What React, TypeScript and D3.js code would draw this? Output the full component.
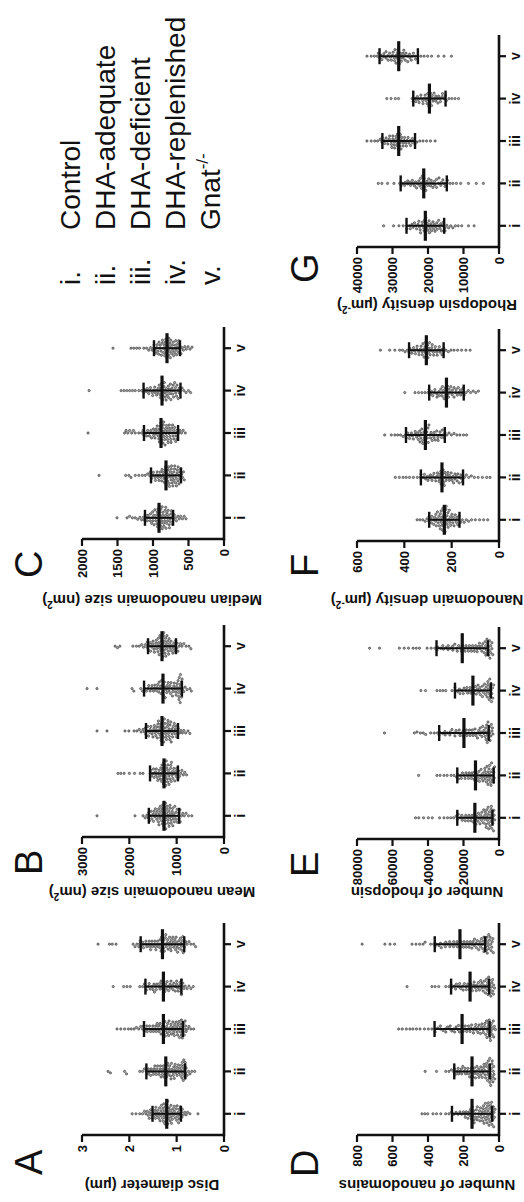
import React from "react";
import * as d3 from "d3";

const groups = ["i", "ii", "iii", "iv", "v"];
const legendNames = ["Control", "DHA-adequate", "DHA-deficient", "DHA-replenished", "Gnat"];
const romans = ["i.", "ii.", "iii.", "iv.", "v."];

// Panel A: Disc diameter (µm)
const discTicks = [0, 1, 2, 3];
const discMeans = [1.21, 1.23, 1.28, 1.28, 1.3];
const discSDs = [0.3, 0.41, 0.41, 0.38, 0.46];
const discI = [1.94, 1.86, 1.78, 1.72, 1.68, 1.65, 1.62, 1.6, 1.57, 1.55, 1.53, 1.5, 1.47, 1.45, 1.43, 1.4, 1.38, 1.36, 1.34, 1.32, 1.3, 1.28, 1.27, 1.25, 1.24, 1.22, 1.21, 1.2, 1.18, 1.17, 1.15, 1.14, 1.12, 1.1, 1.09, 1.07, 1.05, 1.03, 1.01, 0.99, 0.97, 0.95, 0.93, 0.9, 0.88, 0.86, 0.83, 0.8, 0.77, 0.72, 0.55,
  1.58, 1.52, 1.46, 1.41, 1.37, 1.33, 1.29, 1.26, 1.23, 1.21, 1.19, 1.16, 1.13, 1.11, 1.08, 1.05, 1.02, 0.98, 0.95, 0.92, 0.89, 1.35, 1.27, 1.19, 1.12, 1.24, 1.3, 1.44, 1.0, 0.96];
const discII = [2.45, 2.4, 2.1, 2.06, 1.78, 1.72, 1.68, 1.64, 1.6, 1.57, 1.54, 1.51, 1.48, 1.45, 1.42, 1.4, 1.37, 1.35, 1.33, 1.3, 1.28, 1.26, 1.24, 1.22, 1.2, 1.18, 1.16, 1.14, 1.12, 1.1, 1.08, 1.06, 1.04, 1.02, 1.0, 0.98, 0.96, 0.94, 0.92, 0.9, 0.88, 0.87, 0.85, 0.84, 0.82, 0.8, 0.78, 0.75, 0.72, 0.68, 0.62,
  1.55, 1.49, 1.43, 1.38, 1.32, 1.27, 1.23, 1.19, 1.15, 1.11, 1.07, 1.03, 0.99, 0.95, 0.91, 0.88, 0.86, 0.84, 0.82, 0.81, 0.85, 0.89, 1.21, 1.29, 1.34, 1.46, 1.6, 1.13, 1.05];
const discIII = [2.26, 2.18, 2.1, 2.02, 1.96, 1.9, 1.85, 1.8, 1.76, 1.72, 1.68, 1.65, 1.62, 1.58, 1.55, 1.52, 1.49, 1.46, 1.43, 1.4, 1.37, 1.34, 1.31, 1.29, 1.27, 1.25, 1.23, 1.21, 1.19, 1.17, 1.15, 1.13, 1.11, 1.09, 1.07, 1.05, 1.03, 1.01, 0.99, 0.97, 0.95, 0.93, 0.91, 0.9, 0.88, 0.86, 0.84, 0.82, 0.8, 0.77, 0.74, 0.7, 0.64,
  1.7, 1.63, 1.57, 1.5, 1.44, 1.38, 1.33, 1.28, 1.24, 1.2, 1.16, 1.12, 1.08, 1.04, 1.0, 0.96, 0.92, 0.89, 0.87, 0.85, 0.83, 0.81, 0.9, 0.94, 0.98, 1.26, 1.35, 1.41, 1.06, 1.18];
const discIV = [2.34, 2.12, 2.05, 1.98, 1.78, 1.72, 1.68, 1.64, 1.6, 1.56, 1.52, 1.48, 1.45, 1.42, 1.38, 1.35, 1.32, 1.3, 1.27, 1.25, 1.22, 1.2, 1.17, 1.14, 1.12, 1.09, 1.06, 1.03, 1.0, 0.97, 0.94, 0.92, 0.9, 0.88, 0.85, 0.82, 0.78, 0.74, 0.7, 0.65,
  1.66, 1.58, 1.5, 1.43, 1.36, 1.29, 1.23, 1.18, 1.13, 1.08, 1.03, 0.98, 0.93, 0.9, 0.87, 0.91, 1.0, 1.26, 1.33, 1.47];
const discV = [2.66, 2.42, 2.36, 2.28, 1.92, 1.88, 1.84, 1.8, 1.77, 1.73, 1.7, 1.66, 1.63, 1.6, 1.57, 1.54, 1.51, 1.48, 1.45, 1.42, 1.39, 1.36, 1.34, 1.32, 1.3, 1.28, 1.26, 1.24, 1.22, 1.2, 1.18, 1.16, 1.14, 1.12, 1.1, 1.08, 1.06, 1.04, 1.02, 1.0, 0.98, 0.96, 0.94, 0.92, 0.9, 0.88, 0.86, 0.84, 0.81, 0.78, 0.74, 0.7, 0.64, 0.6,
  1.78, 1.72, 1.65, 1.58, 1.52, 1.46, 1.4, 1.35, 1.31, 1.27, 1.23, 1.19, 1.15, 1.11, 1.07, 1.03, 0.99, 0.95, 0.91, 0.87, 0.85, 0.89, 1.25, 1.33, 1.44, 1.55, 1.01, 1.13];

// Panel B: Mean nanodomain size (nm²)
const meanSizeTicks = [0, 1000, 2000, 3000];
const meanSizeMeans = [1268, 1268, 1310, 1289, 1310];
const meanSizeSDs = [320, 295, 338, 400, 295];
const meanSizeI = [2683, 1880, 1710, 1665, 1630, 1600, 1575, 1550, 1525, 1500, 1480, 1460, 1440, 1420, 1400, 1385, 1370, 1355, 1340, 1325, 1310, 1295, 1280, 1265, 1250, 1240, 1230, 1215, 1200, 1190, 1175, 1160, 1145, 1130, 1115, 1100, 1085, 1070, 1050, 1030, 1010, 990, 970, 950, 925, 900, 870, 840, 800, 750, 680,
  1590, 1540, 1490, 1450, 1410, 1375, 1345, 1315, 1290, 1270, 1255, 1235, 1210, 1185, 1165, 1140, 1120, 1095, 1065, 1040, 1015, 985, 955, 930, 1260, 1300, 1380, 1220, 1150, 1080];
const meanSizeII = [2240, 2180, 2110, 2000, 1890, 1770, 1710, 1560, 1530, 1500, 1475, 1450, 1430, 1410, 1390, 1370, 1350, 1335, 1320, 1305, 1290, 1275, 1260, 1248, 1235, 1220, 1205, 1190, 1175, 1160, 1145, 1130, 1115, 1100, 1080, 1060, 1040, 1020, 1000, 980, 960, 940, 915, 890, 860, 830, 790,
  1545, 1490, 1440, 1400, 1360, 1325, 1295, 1270, 1250, 1230, 1210, 1185, 1165, 1140, 1110, 1085, 1050, 1010, 975, 1280, 1240, 1310, 1200, 1125];
const meanSizeIII = [2683, 2472, 2092, 2010, 1900, 1840, 1790, 1750, 1710, 1680, 1650, 1620, 1595, 1570, 1545, 1520, 1500, 1480, 1460, 1440, 1420, 1400, 1385, 1370, 1355, 1340, 1325, 1310, 1295, 1280, 1265, 1250, 1235, 1220, 1205, 1190, 1175, 1160, 1145, 1130, 1115, 1100, 1085, 1070, 1050, 1030, 1010, 990, 965, 940, 910, 880, 850, 810, 760, 720,
  1660, 1610, 1560, 1510, 1470, 1430, 1395, 1360, 1330, 1300, 1275, 1245, 1215, 1185, 1155, 1125, 1095, 1060, 1025, 1000, 1290, 1335, 1410, 1260, 1195, 1140];
const meanSizeIV = [2894, 2683, 1944, 1905, 1760, 1720, 1680, 1640, 1600, 1560, 1520, 1490, 1460, 1430, 1400, 1380, 1360, 1340, 1320, 1300, 1280, 1260, 1240, 1220, 1200, 1180, 1160, 1140, 1120, 1100, 1080, 1060, 1040, 1020, 1000, 980, 960, 945, 930, 915, 900, 885, 870, 850, 820, 780, 720, 690,
  1590, 1530, 1470, 1410, 1370, 1330, 1290, 1250, 1210, 1170, 1130, 1090, 1050, 1010, 990, 970, 950, 935, 920, 905, 895, 925, 955, 1285];
const meanSizeV = [2300, 2250, 2200, 1925, 1850, 1790, 1740, 1700, 1660, 1630, 1600, 1575, 1550, 1525, 1500, 1480, 1460, 1440, 1420, 1400, 1385, 1370, 1355, 1340, 1325, 1310, 1295, 1280, 1265, 1250, 1235, 1220, 1205, 1190, 1175, 1160, 1140, 1120, 1100, 1080, 1060, 1040, 1020, 1000, 975, 950, 920, 890, 850, 800, 740, 700,
  1620, 1560, 1510, 1470, 1430, 1395, 1360, 1330, 1300, 1275, 1245, 1215, 1185, 1150, 1110, 1070, 1030, 990, 1290, 1320, 1260, 1380, 1230, 1170];

// Panel C: Median nanodomain size (nm²)
const medSizeTicks = [0, 500, 1000, 1500, 2000];
const medSizeMeans = [915, 817, 887, 873, 803];
const medSizeSDs = [198, 211, 240, 260, 183];
const medSizeI = [1507, 1366, 1330, 1290, 1250, 1215, 1185, 1160, 1135, 1110, 1090, 1070, 1050, 1035, 1020, 1005, 990, 975, 960, 948, 936, 924, 912, 900, 888, 876, 864, 852, 840, 828, 816, 804, 792, 780, 768, 755, 742, 728, 715, 700, 685, 670, 650, 630, 610, 585, 560, 535,
  1120, 1080, 1040, 1010, 985, 965, 945, 930, 918, 906, 894, 882, 870, 858, 846, 834, 822, 810, 798, 786, 774, 760, 745, 730, 915, 940, 890, 870, 1000, 820];
const medSizeII = [1760, 1385, 1340, 1310, 1250, 1200, 1150, 1110, 1075, 1045, 1020, 995, 970, 950, 930, 910, 890, 872, 856, 840, 825, 810, 796, 782, 768, 755, 742, 730, 718, 706, 694, 682, 670, 658, 646, 634, 622, 610, 598, 585, 572, 560,
  1040, 1000, 965, 940, 915, 895, 876, 860, 845, 830, 815, 800, 786, 772, 758, 745, 732, 720, 708, 696, 684, 672, 660, 648, 636, 624, 820, 780, 740];
const medSizeIII = [1915, 1400, 1380, 1355, 1330, 1300, 1275, 1250, 1200, 1160, 1130, 1100, 1075, 1050, 1030, 1010, 990, 972, 955, 940, 925, 910, 896, 882, 868, 855, 842, 830, 818, 806, 794, 782, 770, 758, 745, 732, 718, 705, 690, 675, 660, 640, 620, 600, 575, 545,
  1140, 1090, 1050, 1020, 995, 975, 955, 935, 918, 902, 888, 874, 860, 847, 834, 822, 810, 798, 786, 774, 762, 750, 737, 724, 710, 695, 680, 665, 890, 860, 910, 850];
const medSizeIV = [1900, 1450, 1410, 1370, 1330, 1290, 1250, 1200, 1160, 1120, 1090, 1060, 1035, 1010, 990, 970, 950, 930, 912, 895, 878, 862, 846, 830, 815, 800, 785, 770, 755, 740, 725, 710, 695, 680, 662, 645, 628, 610, 590, 565, 535, 500, 470,
  1130, 1080, 1040, 1005, 975, 948, 922, 900, 880, 862, 845, 828, 812, 796, 780, 764, 748, 732, 716, 700, 684, 668, 650, 632, 870, 840, 900];
const medSizeV = [1563, 1310, 1270, 1230, 1190, 1130, 1090, 1060, 1035, 1010, 990, 970, 950, 932, 915, 898, 882, 866, 850, 835, 820, 806, 792, 778, 764, 750, 736, 722, 708, 694, 680, 666, 652, 638, 622, 606, 590, 572, 552, 530, 505, 478, 450,
  985, 960, 940, 920, 902, 886, 870, 855, 840, 826, 812, 798, 784, 770, 756, 742, 728, 714, 700, 686, 672, 656, 640, 624, 810, 780, 830, 760];

// Panel D: Number of nanodomains
const ndTicks = [0, 200, 400, 600, 800];
const ndMeans = [152, 152, 208, 163, 220];
const ndSDs = [113, 100, 155, 107, 142];
const ndI = [434, 418, 402, 372, 352, 328, 300, 282, 268, 255, 242, 230, 220, 210, 200, 192, 184, 176, 168, 160, 153, 146, 140, 134, 128, 122, 116, 110, 104, 98, 92, 87, 82, 77, 72, 67, 62, 58, 54, 50, 46, 42, 38, 34, 30, 26, 22,
  190, 175, 162, 150, 140, 131, 123, 115, 108, 101, 95, 89, 84, 79, 74, 69, 64, 60, 56, 52, 48, 44, 40, 36, 32, 28, 155, 143, 85, 66];
const ndII = [416, 352, 300, 282, 268, 255, 245, 236, 228, 220, 212, 204, 196, 188, 180, 172, 165, 158, 151, 144, 138, 132, 126, 120, 114, 108, 102, 96, 90, 85, 80, 75, 70, 65, 60, 56, 52, 48, 44, 40, 36, 32, 28, 24,
  250, 230, 210, 192, 176, 160, 147, 135, 124, 113, 103, 94, 86, 78, 71, 64, 58, 52, 47, 42, 38, 34, 30, 62, 54, 46];
const ndIII = [565, 545, 522, 502, 485, 465, 445, 420, 398, 378, 360, 345, 330, 316, 302, 290, 278, 266, 254, 242, 232, 222, 212, 202, 192, 182, 172, 163, 154, 145, 136, 128, 120, 112, 104, 96, 89, 82, 75, 68, 62, 56, 50, 44, 38, 32, 26, 20,
  360, 330, 300, 275, 250, 228, 208, 190, 173, 158, 144, 131, 119, 108, 98, 88, 79, 71, 63, 55, 48, 42, 36, 30, 60, 70, 53, 45];
const ndIV = [518, 378, 360, 340, 300, 282, 266, 252, 240, 228, 216, 205, 195, 185, 176, 167, 158, 150, 142, 134, 126, 118, 110, 103, 96, 89, 82, 76, 70, 64, 58, 52, 46, 40, 35, 30, 25,
  270, 245, 222, 202, 184, 168, 153, 140, 128, 116, 105, 95, 86, 78, 70, 62, 55, 48, 42, 36, 31, 50, 58, 66];
const ndV = [771, 643, 614, 588, 490, 468, 447, 428, 416, 385, 368, 352, 338, 325, 312, 300, 288, 277, 266, 255, 245, 235, 225, 215, 206, 197, 188, 179, 170, 162, 154, 146, 138, 130, 122, 114, 106, 99, 92, 85, 78, 71, 64, 57, 50, 44, 38, 32,
  360, 330, 302, 278, 256, 236, 218, 200, 184, 168, 153, 140, 127, 115, 104, 94, 85, 76, 68, 61, 54, 47, 41, 35, 66, 73, 88, 58];

// Panel E: Number of rhodopsin
const rhoTicks = [0, 20000, 40000, 60000, 80000];
const rhoMeans = [13600, 13250, 19750, 14700, 20700];
const rhoSDs = [9900, 10250, 13950, 10100, 14500];
const rhoI = [47000, 45200, 42500, 39800, 37600, 33500, 31000, 29000, 27200, 25600, 24200, 23000, 21800, 20700, 19700, 18700, 17800, 16900, 16000, 15200, 14400, 13700, 13000, 12300, 11600, 11000, 10400, 9800, 9200, 8600, 8000, 7400, 6900, 6400, 5900, 5400, 4900, 4400, 3900, 3400, 2900, 2400,
  23500, 21000, 19000, 17300, 15700, 14300, 13000, 11800, 10700, 9700, 8800, 8000, 7200, 6500, 5800, 5200, 4600, 4100, 3600, 3100, 2700, 6100, 6700, 7700, 5000, 4300];
const rhoII = [45300, 35000, 33200, 31000, 29200, 27000, 25400, 24000, 22800, 21700, 20600, 19600, 18600, 17700, 16800, 16000, 15200, 14400, 13700, 13000, 12300, 11600, 11000, 10400, 9800, 9200, 8600, 8000, 7400, 6800, 6200, 5600, 5000, 4500, 4000, 3500, 3000, 2500,
  23500, 21200, 19100, 17200, 15500, 14000, 12600, 11300, 10100, 9000, 8000, 7100, 6300, 5500, 4800, 4200, 3600, 3100, 2700, 5300, 5900, 6600, 7800, 4600];
const rhoIII = [64500, 47700, 46200, 44300, 42700, 41300, 38500, 36500, 34800, 33200, 31700, 30300, 29000, 27700, 26500, 25300, 24200, 23100, 22000, 21000, 20000, 19000, 18100, 17200, 16300, 15400, 14600, 13800, 13000, 12200, 11400, 10600, 9900, 9200, 8500, 7800, 7100, 6400, 5800, 5200, 4600, 4000, 3400,
  33700, 30500, 27500, 24800, 22400, 20300, 18400, 16600, 15000, 13500, 12100, 10800, 9600, 8500, 7500, 6600, 5800, 5000, 4300, 3700, 6200, 6900, 7300, 5400];
const rhoIV = [44000, 41400, 35000, 33200, 31600, 30000, 26500, 24800, 23300, 22000, 20800, 19700, 18700, 17700, 16800, 15900, 15100, 14300, 13500, 12800, 12100, 11400, 10700, 10000, 9300, 8700, 8100, 7500, 6900, 6300, 5700, 5100, 4500, 4000, 3500, 3000,
  24800, 22300, 20100, 18100, 16300, 14700, 13200, 11800, 10500, 9300, 8200, 7200, 6300, 5500, 4800, 4200, 3700, 5200, 5900, 6600, 4400];
const rhoV = [72900, 67300, 56100, 53400, 51000, 48400, 46600, 44800, 40500, 38200, 36200, 34400, 32800, 31300, 29900, 28600, 27300, 26100, 24900, 23800, 22700, 21600, 20600, 19600, 18600, 17600, 16700, 15800, 14900, 14000, 13100, 12300, 11500, 10700, 9900, 9100, 8300, 7500, 6800, 6100, 5400, 4700, 4000, 3500,
  35000, 31700, 28700, 26000, 23500, 21200, 19100, 17200, 15500, 13900, 12400, 11000, 9700, 8500, 7400, 6400, 5500, 4700, 4000, 5800, 6600, 7100, 7800, 5100];

// Panel F: Nanodomain density (µm⁻²)
const ndDensTicks = [0, 200, 400, 600];
const ndDensMeans = [231, 241, 311, 222, 307];
const ndDensSDs = [64, 89, 82, 73, 73];
const ndDensI = [346, 334, 322, 312, 304, 297, 290, 284, 278, 272, 267, 262, 257, 252, 248, 244, 240, 236, 232, 228, 224, 220, 216, 212, 208, 204, 200, 195, 190, 185, 180, 174, 168, 162, 155, 147, 138, 128, 116, 100, 82, 65, 48,
  296, 286, 276, 268, 260, 254, 248, 242, 237, 233, 229, 226, 223, 219, 215, 210, 205, 199, 193, 186, 178, 170, 238, 230, 244, 221, 265, 250];
const ndDensII = [438, 421, 405, 392, 378, 362, 345, 332, 320, 310, 300, 291, 283, 275, 267, 260, 253, 246, 240, 234, 228, 222, 216, 210, 204, 198, 192, 186, 180, 174, 168, 161, 154, 146, 138, 128, 117, 104, 88, 70, 52, 38,
  330, 315, 302, 290, 280, 270, 261, 253, 245, 238, 231, 224, 217, 210, 202, 194, 186, 177, 168, 158, 250, 236, 242, 229];
const ndDensIII = [483, 455, 440, 428, 416, 405, 395, 386, 378, 370, 362, 355, 348, 341, 335, 329, 323, 317, 311, 305, 299, 293, 287, 281, 275, 269, 263, 257, 250, 243, 236, 228, 220, 211, 201, 190, 178, 165, 150, 137,
  392, 378, 366, 354, 344, 334, 326, 318, 310, 303, 296, 289, 282, 274, 266, 258, 249, 240, 231, 315, 322, 300, 306, 330, 338];
const ndDensIV = [398, 355, 340, 326, 313, 301, 290, 280, 271, 262, 254, 246, 239, 232, 225, 218, 211, 204, 197, 190, 183, 176, 169, 162, 155, 147, 139, 130, 120, 109, 98, 87,
  296, 284, 272, 262, 252, 243, 235, 227, 220, 213, 206, 198, 190, 181, 172, 163, 153, 229, 222, 215, 240];
const ndDensV = [501, 462, 440, 420, 408, 397, 387, 378, 369, 361, 353, 346, 339, 332, 325, 318, 312, 306, 300, 294, 288, 282, 276, 270, 263, 256, 249, 241, 233, 224, 214, 203, 190, 175, 158, 140, 122,
  380, 368, 357, 347, 338, 329, 321, 313, 305, 298, 291, 284, 277, 269, 261, 252, 243, 234, 310, 302, 316, 296, 324];

// Panel G: Rhodopsin density (µm⁻²)
const rhoDensTicks = [0, 10000, 20000, 30000, 40000];
const rhoDensMeans = [20750, 21200, 28250, 19600, 28250];
const rhoDensSDs = [5300, 6500, 4600, 4550, 5400];
const rhoDensI = [32500, 29700, 28200, 27000, 26000, 25200, 24500, 23800, 23200, 22600, 22100, 21600, 21100, 20600, 20200, 19800, 19400, 19000, 18600, 18200, 17800, 17400, 17000, 16600, 16200, 15700, 15200, 14700, 14200, 13600, 13000, 12300, 11500, 10500, 8600, 7000,
  26000, 25000, 24200, 23500, 22800, 22200, 21700, 21200, 20800, 20400, 20000, 19600, 19200, 18800, 18400, 18000, 17500, 17000, 16400, 15800, 15200, 20700, 21000, 19700, 22400];
const rhoDensII = [34000, 33000, 31400, 29600, 28000, 27200, 26400, 25700, 25000, 24400, 23800, 23200, 22600, 22100, 21600, 21100, 20600, 20100, 19600, 19100, 18600, 18100, 17600, 17000, 16400, 15800, 15200, 14500, 13800, 13000, 12000, 10800, 8600, 6400, 4400,
  27600, 26600, 25700, 24900, 24200, 23500, 22900, 22300, 21800, 21300, 20800, 20300, 19800, 19300, 18800, 18200, 17600, 16900, 16200, 15400, 14600, 21500, 20900, 22000];
const rhoDensIII = [37200, 36000, 35000, 34200, 33500, 32900, 32300, 31800, 31300, 30800, 30300, 29900, 29500, 29100, 28700, 28300, 27900, 27500, 27100, 26700, 26300, 25900, 25400, 24900, 24400, 23800, 23100, 22300, 21400, 20400, 19300, 18000,
  33000, 32200, 31500, 30900, 30400, 29900, 29400, 29000, 28600, 28200, 27800, 27400, 27000, 26600, 26100, 25600, 25000, 24400, 23700, 28400, 28000, 28800, 27600, 29600, 30200];
const rhoDensIV = [31600, 30400, 29200, 28300, 24500, 23600, 23000, 22500, 22000, 21500, 21000, 20600, 20200, 19800, 19400, 19000, 18600, 18200, 17800, 17400, 17000, 16500, 16000, 15400, 14800, 14100, 13300, 12400, 11400,
  24200, 23400, 22700, 22000, 21400, 20800, 20300, 19800, 19300, 18800, 18300, 17800, 17200, 16600, 15900, 15100, 19600, 20100, 19000];
const rhoDensV = [37200, 36000, 35100, 34300, 33600, 33000, 32400, 31800, 31300, 30800, 30300, 29800, 29400, 29000, 28600, 28200, 27800, 27400, 27000, 26600, 26200, 25700, 25200, 24700, 24100, 23500, 22800, 22000, 21100, 20100, 19000, 17100, 15500, 13400,
  34000, 33200, 32500, 31800, 31200, 30600, 30000, 29500, 29000, 28500, 28000, 27500, 27000, 26400, 25800, 25100, 24400, 23600, 28300, 27800, 28700, 29300, 26800];

type PanelDef = {
  letter: string;
  title: string;
  sup?: string;
  ticks: number[];
  means: number[];
  sds: number[];
  pts: number[][];
  x0: number;
  row: number;
  titleX: number;
  letterX: number;
};

const panels: PanelDef[] = [
  { letter: "A", title: "Disc diameter (µm)", ticks: discTicks, means: discMeans, sds: discSDs, pts: [discI, discII, discIII, discIV, discV], x0: 67, row: 0, titleX: 22, letterX: 27 },
  { letter: "B", title: "Mean nanodomain size (nm", sup: "2", ticks: meanSizeTicks, means: meanSizeMeans, sds: meanSizeSDs, pts: [meanSizeI, meanSizeII, meanSizeIII, meanSizeIV, meanSizeV], x0: 365, row: 0, titleX: 315, letterX: 327 },
  { letter: "C", title: "Median nanodomain size (nm", sup: "2", ticks: medSizeTicks, means: medSizeMeans, sds: medSizeSDs, pts: [medSizeI, medSizeII, medSizeIII, medSizeIV, medSizeV], x0: 663, row: 0, titleX: 607, letterX: 624 },
  { letter: "D", title: "Number of nanodomains", ticks: ndTicks, means: ndMeans, sds: ndSDs, pts: [ndI, ndII, ndIII, ndIV, ndV], x0: 67, row: 1, titleX: 22, letterX: 25 },
  { letter: "E", title: "Number of rhodopsin", ticks: rhoTicks, means: rhoMeans, sds: rhoSDs, pts: [rhoI, rhoII, rhoIII, rhoIV, rhoV], x0: 363, row: 1, titleX: 315, letterX: 325 },
  { letter: "F", title: "Nanodomain density (µm", sup: "-2", ticks: ndDensTicks, means: ndDensMeans, sds: ndDensSDs, pts: [ndDensI, ndDensII, ndDensIII, ndDensIV, ndDensV], x0: 661, row: 1, titleX: 607, letterX: 625 },
  { letter: "G", title: "Rhodopsin density (µm", sup: "-2", ticks: rhoDensTicks, means: rhoDensMeans, sds: rhoDensSDs, pts: [rhoDensI, rhoDensII, rhoDensIII, rhoDensIV, rhoDensV], x0: 955, row: 1, titleX: 902, letterX: 919 },
];

const FONT = "'Liberation Sans', Arial, Helvetica, sans-serif";
const AXIS_W = 212;
const ZERO_Y = [224, 499];
const SPAN = 142;
const DOT_D = 2.8;

function swarm(vals: number[], y: (v: number) => number) {
  const pts = vals.map((v) => ({ py: y(v), dx: 0 }));
  const order = [...pts].sort((a, b) => a.py - b.py);
  const placed: { py: number; dx: number }[] = [];
  let flip = 1;
  for (const p of order) {
    const near = placed.filter((q) => Math.abs(q.py - p.py) < DOT_D);
    let chosen = 0;
    for (let k = 0; k < 80; k++) {
      const mag = k * 0.5;
      const cands = k === 0 ? [0] : [flip * mag, -flip * mag];
      let found = false;
      for (const c of cands) {
        if (near.every((q) => (q.dx - c) ** 2 + (q.py - p.py) ** 2 >= DOT_D * DOT_D)) {
          chosen = c;
          found = true;
          break;
        }
      }
      if (found) break;
    }
    flip = -flip;
    p.dx = chosen;
    placed.push(p);
  }
  return pts;
}

function Panel({ p }: { p: PanelDef }) {
  const zero = ZERO_Y[p.row];
  const max = p.ticks[p.ticks.length - 1];
  const x = d3.scaleBand<string>().domain(groups).range([p.x0, p.x0 + AXIS_W]);
  const y = d3.scaleLinear().domain([0, max]).range([zero, zero - SPAN]);
  const bw = x.bandwidth();
  const titleY = zero - SPAN / 2 - 1;
  return (
    <g>
      {groups.map((g, gi) => {
        const cx = (x(g) as number) + bw / 2;
        const sw = swarm(p.pts[gi], y);
        return (
          <g key={g}>
            {sw.map((s, k) => (
              <circle key={k} cx={cx + s.dx} cy={s.py} r={1.15} fill="#a0a0a0" stroke="#222" strokeWidth={0.55} />
            ))}
          </g>
        );
      })}
      {groups.map((g, gi) => {
        const cx = (x(g) as number) + bw / 2;
        const m = p.means[gi];
        const s = p.sds[gi];
        const lo = Math.max(0, m - s);
        return (
          <g key={"e" + g} stroke="#111" fill="none">
            <line x1={cx} x2={cx} y1={y(m + s)} y2={y(lo)} strokeWidth={2} />
            <line x1={cx - 8} x2={cx + 8} y1={y(m + s)} y2={y(m + s)} strokeWidth={2.4} />
            <line x1={cx - 8} x2={cx + 8} y1={y(lo)} y2={y(lo)} strokeWidth={2.4} />
            <line x1={cx - 15} x2={cx + 15} y1={y(m)} y2={y(m)} strokeWidth={3.2} />
          </g>
        );
      })}
      <line x1={p.x0} x2={p.x0} y1={y(max)} y2={zero} stroke="#111" strokeWidth={2.6} />
      {p.ticks.map((t) => (
        <g key={t}>
          <line x1={p.x0 - 7} x2={p.x0} y1={y(t)} y2={y(t)} stroke="#111" strokeWidth={2.2} />
          <text x={p.x0 - 10} y={y(t)} dy="0.36em" textAnchor="end" fontFamily={FONT} fontWeight="bold" fontSize={13} fill="#111">
            {String(t)}
          </text>
        </g>
      ))}
      <line x1={p.x0 - 1.3} x2={p.x0 + AXIS_W} y1={zero} y2={zero} stroke="#111" strokeWidth={2.6} />
      {groups.map((g) => {
        const cx = (x(g) as number) + bw / 2;
        return (
          <g key={"c" + g}>
            <line x1={cx} x2={cx} y1={zero} y2={zero + 7} stroke="#111" strokeWidth={2.2} />
            <text x={cx} y={zero + 21} textAnchor="middle" fontFamily={FONT} fontWeight="bold" fontSize={14} fill="#111">
              {g}
            </text>
          </g>
        );
      })}
      <text transform={`translate(${p.titleX},${titleY}) rotate(-90)`} textAnchor="middle" fontFamily={FONT} fontWeight="bold" fontSize={15} fill="#111">
        {p.title}
        {p.sup ? (
          <>
            <tspan fontSize={10} dy={-6}>{p.sup}</tspan>
            <tspan dy={6}>)</tspan>
          </>
        ) : null}
      </text>
      <text x={p.letterX} y={p.row === 0 ? 42 : 318} fontFamily={FONT} fontSize={38} fill="#111">
        {p.letter}
      </text>
    </g>
  );
}

function Legend() {
  const base = [80, 115, 150, 185, 220];
  return (
    <g fontFamily={FONT} fontSize={28} fill="#111">
      {legendNames.map((n, i) => (
        <g key={n}>
          <text x={917} y={base[i]}>{romans[i]}</text>
          <text x={972} y={base[i]}>
            {n}
            {i === 4 ? <tspan fontSize={17} dy={-12}>-/-</tspan> : null}
          </text>
        </g>
      ))}
    </g>
  );
}

export default function App() {
  return (
    <svg width={524} height={1202} style={{ position: "absolute", left: 0, top: 0, display: "block" }} xmlns="http://www.w3.org/2000/svg">
      <rect width={524} height={1202} fill="#fff" />
      <g transform="matrix(0,-1,1,0,0,1202)">
        {panels.map((p) => (
          <Panel key={p.letter} p={p} />
        ))}
        <Legend />
      </g>
    </svg>
  );
}
